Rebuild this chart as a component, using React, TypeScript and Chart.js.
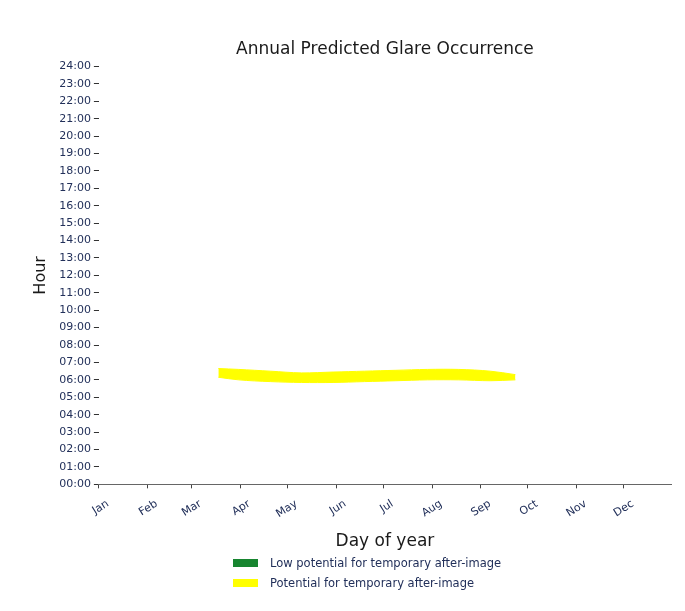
import React, { useEffect, useRef } from "react";
import { Chart, registerables } from "chart.js";

Chart.register(...registerables);

const monthNames = ["Jan", "Feb", "Mar", "Apr", "May", "Jun", "Jul", "Aug", "Sep", "Oct", "Nov", "Dec"];
const monthStartDays = [1, 32, 60, 91, 121, 152, 182, 213, 244, 274, 305, 335];
const hourTicks = [0, 1, 2, 3, 4, 5, 6, 7, 8, 9, 10, 11, 12, 13, 14, 15, 16, 17, 18, 19, 20, 21, 22, 23, 24];

// Glare band (potential for temporary after-image): day of year, lower / upper hour
const glareDays = [77, 90, 110, 130, 150, 170, 190, 210, 230, 250, 266];
const glareLower = [6.15, 6.0, 5.9, 5.85, 5.85, 5.9, 5.95, 6.0, 6.0, 5.95, 6.0];
const glareUpper = [6.65, 6.6, 6.5, 6.4, 6.45, 6.5, 6.55, 6.6, 6.6, 6.5, 6.3];

const legendLabels = ["Low potential for temporary after-image", "Potential for temporary after-image"];
const legendColors = ["#17852f", "#ffff00"];

const FONT = "'DejaVu Sans', sans-serif";

export default function App() {
  const ref = useRef<HTMLCanvasElement | null>(null);

  useEffect(() => {
    if (!ref.current) return;
    const chart = new Chart(ref.current, {
      type: "line",
      data: {
        datasets: [
          {
            label: legendLabels[0],
            data: [],
            borderColor: legendColors[0],
            backgroundColor: legendColors[0],
          },
          {
            label: "lower",
            data: glareDays.map((d, i) => ({ x: d, y: glareLower[i] })),
            borderColor: legendColors[1],
            borderWidth: 1,
            pointRadius: 0,
            tension: 0.35,
            fill: false,
          },
          {
            label: legendLabels[1],
            data: glareDays.map((d, i) => ({ x: d, y: glareUpper[i] })),
            borderColor: legendColors[1],
            backgroundColor: legendColors[1],
            borderWidth: 1,
            pointRadius: 0,
            tension: 0.35,
            fill: "-1",
          },
        ],
      },
      options: {
        responsive: false,
        animation: false,
        layout: { padding: { top: 20, left: 19, right: 6, bottom: 4 } },
        plugins: {
          legend: { display: false },
          tooltip: { enabled: false },
          title: {
            display: true,
            text: "Annual Predicted Glare Occurrence",
            fullSize: false,
            color: "#1a1a1a",
            font: { family: FONT, size: 17, weight: "normal" },
            padding: { top: 11, bottom: 7 },
          },
        },
        scales: {
          x: {
            type: "linear",
            min: 1,
            max: 365,
            afterBuildTicks: (scale: any) => {
              scale.ticks = monthStartDays.map((v) => ({ value: v }));
            },
            ticks: {
              autoSkip: false,
              minRotation: 32,
              maxRotation: 32,
              labelOffset: 9,
              padding: 9,
              color: "#22305a",
              font: { family: FONT, size: 11 },
              callback: (v: any) => {
                const idx = monthStartDays.indexOf(Number(v));
                return idx >= 0 ? monthNames[idx] : "";
              },
            },
            grid: { drawOnChartArea: false, tickLength: 4, tickColor: "#444" },
            border: { display: true, color: "#666", width: 1 },
            title: {
              display: true,
              text: "Day of year",
              color: "#1a1a1a",
              font: { family: FONT, size: 17 },
              padding: { top: 2, bottom: 4 },
            },
          },
          y: {
            type: "linear",
            min: 0,
            max: 24,
            afterBuildTicks: (scale: any) => {
              scale.ticks = hourTicks.map((v) => ({ value: v }));
            },
            ticks: {
              autoSkip: false,
              padding: 3,
              color: "#22305a",
              font: { family: FONT, size: 11 },
              callback: (v: any) => String(v).padStart(2, "0") + ":00",
            },
            grid: { drawOnChartArea: false, tickLength: 5, tickColor: "#333" },
            border: { display: false },
            title: {
              display: true,
              text: "Hour",
              color: "#1a1a1a",
              font: { family: FONT, size: 16 },
              padding: { top: 4, bottom: 6 },
            },
          },
        },
      },
    });
    return () => chart.destroy();
  }, []);

  return (
    <div style={{ width: 669 }}>
      <canvas ref={ref} width={669} height={552} style={{ display: "block" }} />
      <div style={{ marginTop: -7, paddingLeft: 225, fontFamily: FONT, fontSize: 11.5, color: "#22305a" }}>
        {legendLabels.map((lab, i) => (
          <div key={lab} style={{ display: "flex", alignItems: "center", height: 20 }}>
            <span style={{ display: "inline-block", width: 25, height: 8, background: legendColors[i], marginRight: 12 }} />
            <span>{lab}</span>
          </div>
        ))}
      </div>
    </div>
  );
}
